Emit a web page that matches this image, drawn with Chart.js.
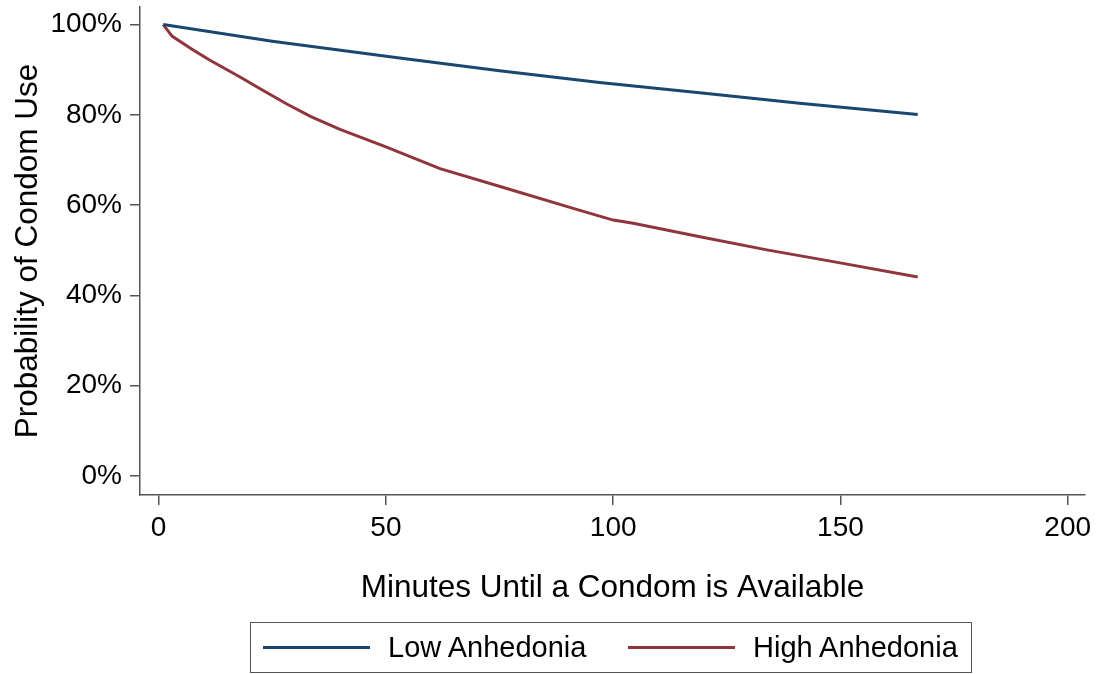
<!DOCTYPE html>
<html>
<head>
<meta charset="utf-8">
<script src="https://cdn.jsdelivr.net/npm/chart.js@4"></script>
<style>
  html, body { margin: 0; padding: 0; background: #fff; }
  #wrap { position: relative; width: 1102px; height: 674px; }
  #legend {
    position: absolute; left: 250px; top: 622px; width: 722px; height: 51px;
    border: 1px solid #555; box-sizing: border-box;
    font-family: "Liberation Sans", Arial, sans-serif; font-size: 29px; color: #000;
  }
  .item { position: absolute; top: 0; height: 49px; display: flex; align-items: center; }
  .swatch { display: inline-block; width: 107px; height: 0; border-top: 3px solid; margin-right: 18px; }
</style>
</head>
<body>
<div id="wrap">
  <canvas id="c" width="1102" height="674"></canvas>
  <div id="legend"></div>
</div>
<script>
// ---- data ----
const seriesNames = ["Low Anhedonia", "High Anhedonia"];
const seriesColors = ["#1a476f", "#90353b"];
const lowMinutes = [1, 25, 53, 75, 97, 119, 141, 167];
const lowValues  = [100, 96.3, 92.6, 89.8, 87.2, 84.9, 82.6, 80.1];
const highMinutes = [1, 3, 7.6, 11.3, 17.9, 23, 28.2, 33.5, 39.9, 50, 61.9, 76.6, 91.2, 100, 104.4, 119.1, 133.8, 148.4, 167];
const highValues  = [100, 97.4, 94.4, 92.1, 88.4, 85.4, 82.4, 79.6, 76.8, 72.9, 68.1, 63.7, 59.3, 56.7, 56.0, 53.0, 50.1, 47.5, 44.1];
const xTicks = [0, 50, 100, 150, 200];
const yTicks = [0, 20, 40, 60, 80, 100];
const xTitle = "Minutes Until a Condom is Available";
const yTitle = "Probability of Condom Use";

const toPts = (xs, ys) => xs.map((x, i) => ({ x: x, y: ys[i] }));
const FONT = "'Liberation Sans', Arial, sans-serif";
const AXIS = "#555";

new Chart(document.getElementById("c"), {
  type: "line",
  data: {
    datasets: [
      { label: seriesNames[0], data: toPts(lowMinutes, lowValues), borderColor: seriesColors[0], borderWidth: 3, pointRadius: 0, tension: 0, fill: false },
      { label: seriesNames[1], data: toPts(highMinutes, highValues), borderColor: seriesColors[1], borderWidth: 3, pointRadius: 0, tension: 0, fill: false }
    ]
  },
  options: {
    responsive: false,
    animation: false,
    layout: { padding: { left: 0, right: 17, top: 7, bottom: 64 } },
    plugins: { legend: { display: false }, tooltip: { enabled: false } },
    scales: {
      x: {
        type: "linear", min: -4.1, max: 203.8,
        afterBuildTicks: s => { s.ticks = xTicks.map(v => ({ value: v })); },
        afterFit: s => { s.height = 115; s.paddingLeft = 0; s.paddingRight = 0; },
        border: { display: true, color: AXIS, width: 1.5 },
        grid: { drawOnChartArea: false, drawTicks: true, tickLength: 10, color: AXIS, lineWidth: 1.5 },
        ticks: { color: "#000", font: { family: FONT, size: 28 }, padding: 6, maxRotation: 0 },
        title: { display: true, text: xTitle, color: "#000", font: { family: FONT, size: 31.5 }, padding: { top: 4, bottom: 3 } }
      },
      y: {
        type: "linear", min: -4.2, max: 103.9,
        afterBuildTicks: s => { s.ticks = yTicks.map(v => ({ value: v })); },
        afterFit: s => { s.width = 140; s.paddingTop = 0; s.paddingBottom = 0; },
        border: { display: true, color: AXIS, width: 1.5 },
        grid: { drawOnChartArea: false, drawTicks: true, tickLength: 10, color: AXIS, lineWidth: 1.5 },
        ticks: { color: "#000", font: { family: FONT, size: 28 }, padding: 8, callback: v => v + "%" },
        title: { display: true, text: yTitle, color: "#000", font: { family: FONT, size: 31.5 }, padding: { top: 9, bottom: 4 } }
      }
    }
  }
});

// HTML legend built from series arrays
const lg = document.getElementById("legend");
const itemLefts = [12, 377];
seriesNames.forEach((n, i) => {
  const d = document.createElement("div");
  d.className = "item";
  d.style.left = itemLefts[i] + "px";
  const sw = document.createElement("span");
  sw.className = "swatch";
  sw.style.borderTopColor = seriesColors[i];
  const t = document.createElement("span");
  t.textContent = n;
  d.appendChild(sw); d.appendChild(t);
  lg.appendChild(d);
});
</script>
</body>
</html>
